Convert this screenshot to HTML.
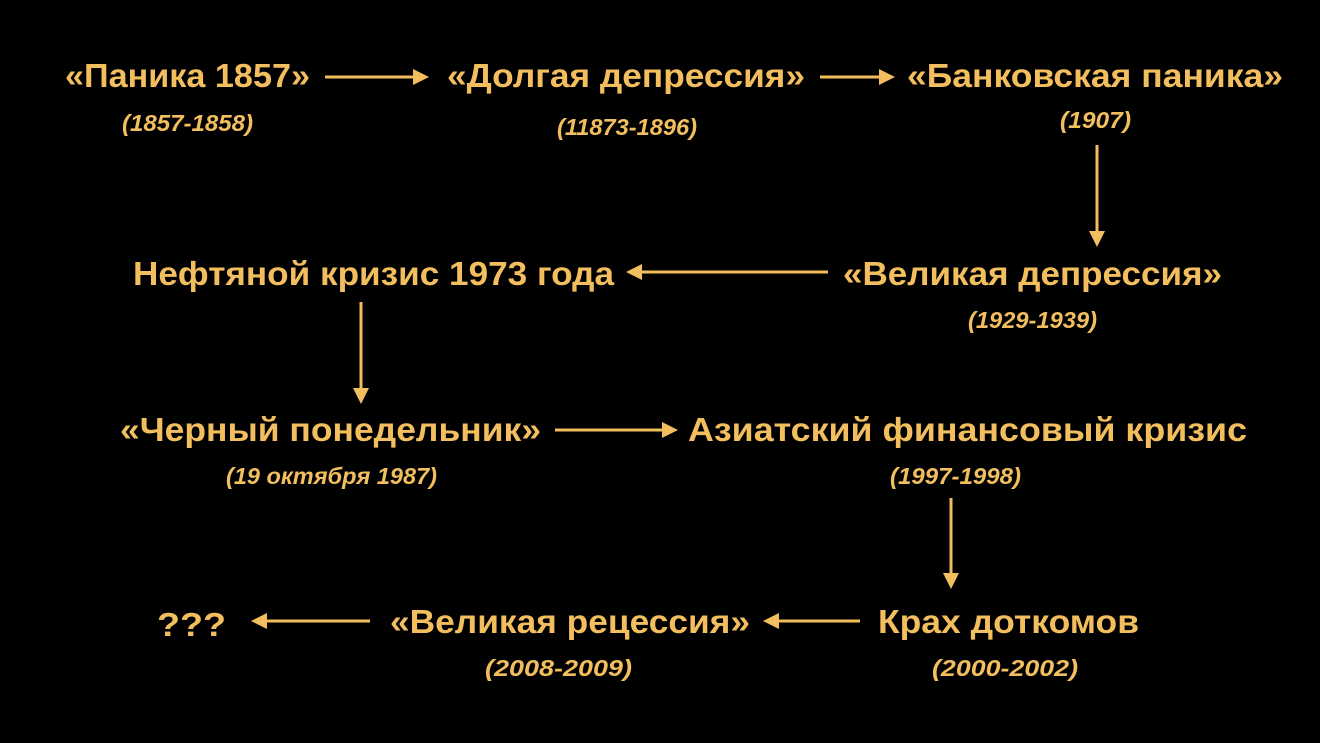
<!DOCTYPE html>
<html><head><meta charset="utf-8"><style>
html,body{margin:0;padding:0;background:#000;width:1320px;height:743px;overflow:hidden}
svg{display:block}
.t{font-family:"Liberation Sans",sans-serif;font-weight:bold;font-size:33px;fill:#F2BE5E}
.s{font-family:"Liberation Sans",sans-serif;font-weight:bold;font-style:italic;font-size:23px;fill:#F2BE5E}
line{stroke:#F2BE5E;stroke-width:3}
polygon{fill:#F2BE5E}
</style></head><body>
<svg width="1320" height="743" viewBox="0 0 1320 743">
<text class="t" x="65" y="87" textLength="245" lengthAdjust="spacingAndGlyphs">«Паника 1857»</text>
<text class="s" x="122" y="131" textLength="131" lengthAdjust="spacingAndGlyphs">(1857-1858)</text>
<text class="t" x="447" y="87" textLength="358" lengthAdjust="spacingAndGlyphs">«Долгая депрессия»</text>
<text class="s" x="557" y="135" textLength="140" lengthAdjust="spacingAndGlyphs">(11873-1896)</text>
<text class="t" x="907" y="87" textLength="376" lengthAdjust="spacingAndGlyphs">«Банковская паника»</text>
<text class="s" x="1060" y="128" textLength="71" lengthAdjust="spacingAndGlyphs">(1907)</text>

<text class="t" x="133" y="285" textLength="481" lengthAdjust="spacingAndGlyphs">Нефтяной кризис 1973 года</text>
<text class="t" x="843" y="285" textLength="379" lengthAdjust="spacingAndGlyphs">«Великая депрессия»</text>
<text class="s" x="968" y="328" textLength="129" lengthAdjust="spacingAndGlyphs">(1929-1939)</text>

<text class="t" x="120" y="441" textLength="421" lengthAdjust="spacingAndGlyphs">«Черный понедельник»</text>
<text class="s" x="226" y="484" textLength="211" lengthAdjust="spacingAndGlyphs">(19 октября 1987)</text>
<text class="t" x="688" y="441" textLength="559" lengthAdjust="spacingAndGlyphs">Азиатский финансовый кризис</text>
<text class="s" x="890" y="484" textLength="131" lengthAdjust="spacingAndGlyphs">(1997-1998)</text>

<text class="t" x="157" y="636" textLength="69" lengthAdjust="spacingAndGlyphs">???</text>
<text class="t" x="390" y="633" textLength="360" lengthAdjust="spacingAndGlyphs">«Великая рецессия»</text>
<text class="s" x="485" y="676" textLength="147" lengthAdjust="spacingAndGlyphs">(2008-2009)</text>
<text class="t" x="878" y="633" textLength="261" lengthAdjust="spacingAndGlyphs">Крах доткомов</text>
<text class="s" x="932" y="676" textLength="146" lengthAdjust="spacingAndGlyphs">(2000-2002)</text>

<line x1="325" y1="77" x2="416" y2="77"/><polygon points="429,77 413,69 413,85"/>
<line x1="820" y1="77" x2="882" y2="77"/><polygon points="895,77 879,69 879,85"/>
<line x1="555" y1="430" x2="664" y2="430"/><polygon points="678,430 662,422 662,438"/>
<line x1="828" y1="272" x2="640" y2="272"/><polygon points="626,272 642,264 642,280"/>
<line x1="860" y1="621" x2="777" y2="621"/><polygon points="763,621 779,613 779,629"/>
<line x1="370" y1="621" x2="265" y2="621"/><polygon points="251,621 267,613 267,629"/>
<line x1="1097" y1="145" x2="1097" y2="234"/><polygon points="1097,247 1089,231 1105,231"/>
<line x1="361" y1="302" x2="361" y2="391"/><polygon points="361,404 353,388 369,388"/>
<line x1="951" y1="498" x2="951" y2="576"/><polygon points="951,589 943,573 959,573"/>
</svg>
</body></html>
